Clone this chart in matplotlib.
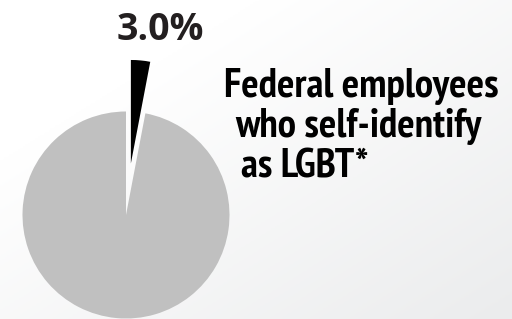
import matplotlib
matplotlib.use("Agg")
import matplotlib.pyplot as plt
import numpy as np

# data
labels = ["LGBT", "Other"]
shares = [3.0, 97.0]
colors = ["#000000", "#c0c0c0"]
pct_label = "3.0%"
caption_lines = ["Federal employees", "who self-identify", "as LGBT*"]

W, H = 512, 319
fig = plt.figure(figsize=(W / 100, H / 100), dpi=100)

# soft diagonal background gradient
bg = fig.add_axes([0, 0, 1, 1])
yy, xx = np.mgrid[0:1:200j, 0:1:300j]
grad = np.clip((xx * 0.6 + yy * 0.6) - 0.3, 0, 1)
bg.imshow(grad, cmap=matplotlib.colors.LinearSegmentedColormap.from_list(
    "bg", ["#ffffff", "#ebeced"]), extent=[0, W, 0, H], aspect="auto", origin="upper")
bg.set_xlim(0, W)
bg.set_ylim(0, H)
bg.axis("off")

ax = fig.add_axes([0, 0, 1, 1])
r = 103.5
wedges, _ = ax.pie(shares, colors=colors, startangle=90, counterclock=False,
                   center=(126, H - 215), radius=r, explode=[0.5 * r, 0],
                   frame=True)
ax.set_xlim(0, W)
ax.set_ylim(0, H)
ax.set_aspect("equal")
ax.axis("off")

ax.text(160, H - 40, pct_label, ha="center", va="baseline", fontsize=27,
        fontweight="bold", family=["Open Sans", "DejaVu Sans"],
        color="#231f20")

cap_font = ["PT Sans Narrow", "Barlow Condensed", "DejaVu Sans"]
for line, x, y in zip(caption_lines, [224, 235, 241], [97, 137, 177]):
    ax.text(x, H - y, line, ha="left", va="baseline", fontsize=29.5,
            fontweight="bold", family=cap_font, color="#000000")

fig.savefig("out.png", dpi=100)
